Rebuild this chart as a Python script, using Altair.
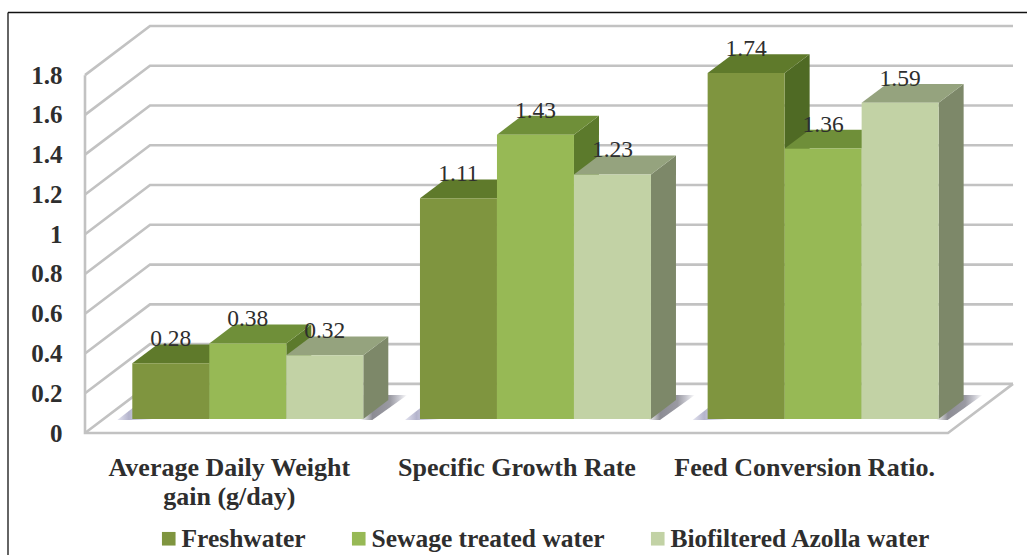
import altair as alt
import pandas as pd

# Chart content
categories = ["Average Daily Weight gain (g/day)", "Specific Growth Rate", "Feed Conversion Ratio."]
series = ["Freshwater", "Sewage treated water", "Biofiltered Azolla water"]
freshwater = [0.28, 1.11, 1.74]
sewage_treated = [0.38, 1.43, 1.36]
biofiltered = [0.32, 1.23, 1.59]
y_ticks = [0, 0.2, 0.4, 0.6, 0.8, 1, 1.2, 1.4, 1.6, 1.8]

front_colors = ["#7F953F", "#97B955", "#C2D2A5"]
top_colors = ["#5F7A2B", "#6F8F39", "#95A37E"]
side_colors = ["#4F6A24", "#5C7A2C", "#7D8869"]

# Oblique projection: one unit of depth moves a point this far along each axis
SLOT_PX = 287.67
UNIT_PX = 198.3
DEPTH_X = 65 / SLOT_PX
DEPTH_Y = 49 / UNIT_PX

BAR_W = 77 / SLOT_PX
GROUP_GAP = (1 - 3 * BAR_W) / 2 + 0.4 / SLOT_PX
BAR_NEAR = 14 / 49
BAR_DEEP = 25 / 65

x_scale = alt.Scale(domain=[0, 3 + DEPTH_X], nice=False, zero=False)
y_scale = alt.Scale(domain=[0, 1.8 + DEPTH_Y], nice=False, zero=False)
FONT = "Liberation Serif"
TEXT_COLOR = "#2E2E2E"

# Walls: every tick runs up the side wall, then along the back wall
wall_rows = []
for v in y_ticks:
    wall_rows += [
        {"tick": v, "step": 0, "u": 0, "v": v},
        {"tick": v, "step": 1, "u": DEPTH_X, "v": v + DEPTH_Y},
        {"tick": v, "step": 2, "u": 3 + DEPTH_X, "v": v + DEPTH_Y},
    ]
wall_rows += [
    {"tick": -1, "step": 0, "u": 0, "v": 1.8},
    {"tick": -1, "step": 1, "u": 0, "v": 0},
    {"tick": -1, "step": 2, "u": 3, "v": 0},
    {"tick": -1, "step": 3, "u": 3 + DEPTH_X, "v": DEPTH_Y},
]
walls = (
    alt.Chart(pd.DataFrame(wall_rows))
    .mark_line(color="#C2C2C2", strokeWidth=2.6)
    .encode(
        x=alt.X("u:Q", scale=x_scale, axis=alt.Axis(
            values=[0.5, 1.5, 2.5], title=None, domain=False, ticks=False, grid=False,
            labelFont=FONT, labelFontWeight="bold", labelFontSize=26, labelColor=TEXT_COLOR,
            labelPadding=21, labelOverlap=False, labelBound=False, labelFlush=False,
            labelLineHeight=29, labelBaseline="top", labelLimit=400,
            labelExpr=(
                f"datum.value < 1 ? ['{categories[0][:20]}', '{categories[0][21:]}'] : "
                f"datum.value < 2 ? '{categories[1]}' : '{categories[2]}'"
            ),
        )),
        y=alt.Y("v:Q", scale=y_scale, axis=alt.Axis(
            values=y_ticks, title=None, domain=False, ticks=False, grid=False,
            labelFont=FONT, labelFontWeight="bold", labelFontSize=25, labelColor=TEXT_COLOR,
            labelPadding=23, labelOverlap=False, labelBound=False, labelFlush=False,
            labelExpr="format(datum.value, '.1~f')",
        )),
        detail="tick:N",
        order="step:Q",
    )
)

# One row per bar, in drawing order
rows = []
for s, (name, vals) in enumerate(zip(series, [freshwater, sewage_treated, biofiltered])):
    for c, val in enumerate(vals):
        left = c + GROUP_GAP + s * BAR_W + BAR_NEAR * DEPTH_X
        base = BAR_NEAR * DEPTH_Y
        rows.append({
            "series": name, "s": s, "c": c, "value": val,
            "left": left, "right": left + BAR_W, "mid": left + BAR_W / 2,
            "base": base, "top": base + val,
        })
bars = pd.DataFrame(rows)

# Cast shadow on the floor behind each group, fading out to either side
shadow_rows = []
for c in range(3):
    g = bars[bars.c == c]
    x0, x1, b = g.left.min(), g.right.max(), g.base.iloc[0]
    shadow_rows += [
        {"c": c, "y": b - 1 / UNIT_PX, "x": x0 - 15 / SLOT_PX, "x2": x1 + 9 / SLOT_PX},
        {"c": c, "y": b + 24 / UNIT_PX, "x": x0 + 17 / SLOT_PX, "x2": x1 + 44 / SLOT_PX},
    ]
shadow_fill = alt.Gradient(
    gradient="linear", x1=0, x2=1, y1=0, y2=0,
    stops=[
        alt.GradientStop(offset=0, color="#E4E4F0"),
        alt.GradientStop(offset=0.04, color="#B4B4CC"),
        alt.GradientStop(offset=0.12, color="#FFFFFF"),
        alt.GradientStop(offset=0.84, color="#FFFFFF"),
        alt.GradientStop(offset=0.88, color="#8C8C94"),
        alt.GradientStop(offset=0.94, color="#9A9AA2"),
        alt.GradientStop(offset=0.97, color="#C8C8D0"),
        alt.GradientStop(offset=1, color="#FFFFFF"),
    ],
)
shadows = (
    alt.Chart(pd.DataFrame(shadow_rows))
    .mark_area(orient="horizontal", color=shadow_fill)
    .encode(
        y=alt.Y("y:Q", scale=y_scale),
        x=alt.X("x:Q", scale=x_scale),
        x2="x2:Q",
        detail="c:N",
    )
)

layers = [walls, shadows]
for s, name in enumerate(series):
    g = bars[bars.s == s]
    dx, dy = BAR_DEEP * DEPTH_X, BAR_DEEP * DEPTH_Y

    side_rows, top_rows = [], []
    for r in g.itertuples():
        side_rows += [
            {"c": r.c, "x": r.right, "y": r.base, "y2": r.top},
            {"c": r.c, "x": r.right + dx, "y": r.base + dy, "y2": r.top + dy},
        ]
        top_rows += [
            {"c": r.c, "y": r.top, "x": r.left, "x2": r.right},
            {"c": r.c, "y": r.top + dy, "x": r.left + dx, "x2": r.right + dx},
        ]

    layers.append(
        alt.Chart(pd.DataFrame(side_rows)).mark_area(color=side_colors[s]).encode(
            x=alt.X("x:Q", scale=x_scale),
            y=alt.Y("y:Q", scale=y_scale),
            y2="y2:Q",
            detail="c:N",
        )
    )
    layers.append(
        alt.Chart(pd.DataFrame(top_rows)).mark_area(orient="horizontal", color=top_colors[s]).encode(
            y=alt.Y("y:Q", scale=y_scale),
            x=alt.X("x:Q", scale=x_scale),
            x2="x2:Q",
            detail="c:N",
        )
    )
    layers.append(
        alt.Chart(g).mark_rect().encode(
            x=alt.X("left:Q", scale=x_scale),
            x2="right:Q",
            y=alt.Y("base:Q", scale=y_scale),
            y2="top:Q",
            color=alt.Color(
                "series:N",
                scale=alt.Scale(domain=series, range=front_colors),
                legend=alt.Legend(
                    title=None, orient="none", direction="horizontal", columns=3,
                    legendX=71, legendY=500, symbolType="square", symbolSize=185,
                    symbolStrokeWidth=0, labelFont=FONT, labelFontWeight="bold",
                    labelFontSize=25.5, labelColor=TEXT_COLOR, columnPadding=40, labelOffset=0,
                    labelLimit=320, gridAlign="none",
                ),
            ),
        )
    )

labels = (
    alt.Chart(bars)
    .mark_text(font=FONT, fontSize=23.5, color=TEXT_COLOR, dy=-24)
    .encode(
        x=alt.X("mid:Q", scale=x_scale),
        y=alt.Y("top:Q", scale=y_scale),
        text=alt.Text("value:Q", format=".2f"),
    )
)
layers.append(labels)

# Picture frame along the top and left edges
frame_top = alt.Chart(pd.DataFrame({"a": [0]})).mark_rule(color="#111111", strokeWidth=1.3).encode(
    x=alt.value(-77), x2=alt.value(942), y=alt.value(-13.5)
)
frame_left = alt.Chart(pd.DataFrame({"a": [0]})).mark_rule(color="#111111", strokeWidth=1.3).encode(
    x=alt.value(-77), y=alt.value(-13.5), y2=alt.value(529)
)
layers += [frame_top, frame_left]

chart = (
    alt.layer(*layers)
    .properties(
        width=928, height=407,
        padding={"left": 85, "top": 26, "right": 14, "bottom": 122},
        autosize=alt.AutoSizeParams(type="none"),
        background="white",
    )
    .configure_view(stroke=None)
)

chart.save("out.html", embed_options={"renderer": "svg", "actions": False})
